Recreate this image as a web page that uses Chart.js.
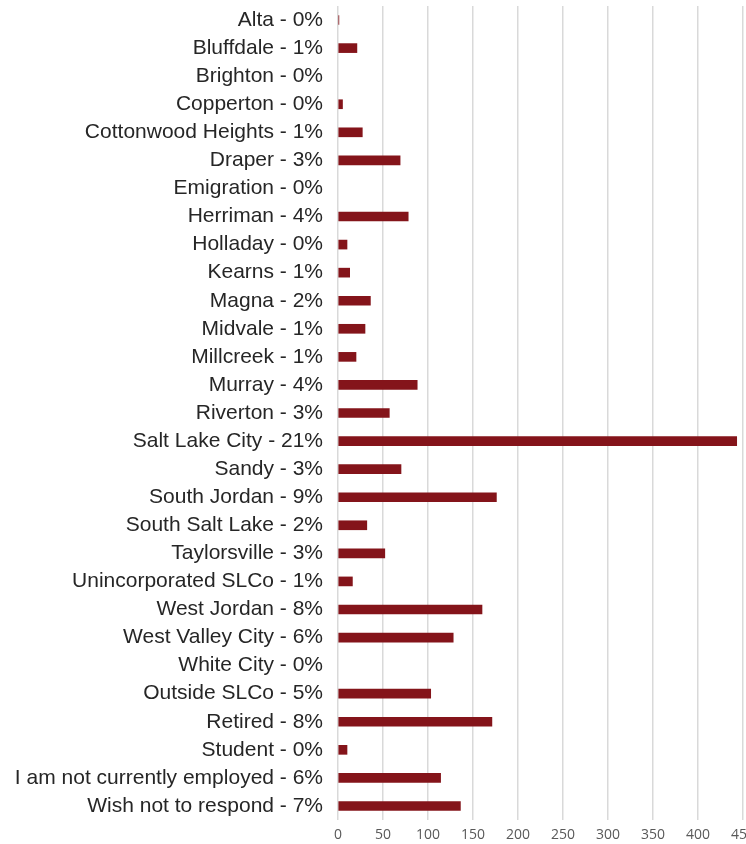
<!DOCTYPE html>
<html>
<head>
<meta charset="utf-8">
<script src="https://cdn.jsdelivr.net/npm/chart.js@4.4.1/dist/chart.umd.min.js"></script>
<style>
html,body{margin:0;padding:0;background:#fff;}
#wrap{width:746px;height:844px;position:relative;}
</style>
</head>
<body>
<div id="wrap"><canvas id="c"></canvas></div>
<script>
const categories = ["Alta","Bluffdale","Brighton","Copperton","Cottonwood Heights","Draper","Emigration","Herriman","Holladay","Kearns","Magna","Midvale","Millcreek","Murray","Riverton","Salt Lake City","Sandy","South Jordan","South Salt Lake","Taylorsville","Unincorporated SLCo","West Jordan","West Valley City","White City","Outside SLCo","Retired","Student","I am not currently employed","Wish not to respond"];
const percents = [0,1,0,0,1,3,0,4,0,1,2,1,1,4,3,21,3,9,2,3,1,8,6,0,5,8,0,6,7];
const counts = [1,21,0,5,27,69,0,78,10,13,36,30,20,88,57,443,70,176,32,52,16,160,128,0,103,171,10,114,136];
const xTicks = [0,50,100,150,200,250,300,350,400,450];

const labels = categories.map((c,i)=>c+" - "+percents[i]+"%");

new Chart(document.getElementById('c'), {
  type: 'bar',
  data: {
    labels: labels,
    datasets: [{
      data: counts.map(v => v === 0 ? null : v),
      backgroundColor: '#84141a',
      borderWidth: 0,
      barThickness: 9
    }]
  },
  options: {
    indexAxis: 'y',
    responsive: true,
    maintainAspectRatio: false,
    animation: false,
    layout: { padding: { top: 6, right: 3, bottom: 2, left: 0 } },
    plugins: { legend: { display: false }, tooltip: { enabled: false } },
    scales: {
      x: {
        min: 0, max: 450,
        afterBuildTicks: (s) => { s.ticks = xTicks.map(v => ({ value: v })); },
        afterFit: (s) => { s.paddingRight = 0; s.paddingLeft = 0; s.height = 22; },
        grid: { color: '#d9d9d9', lineWidth: 1.5, drawTicks: false },
        border: { display: false },
        ticks: { color: '#595959', padding: 7, font: { family: 'Open Sans', size: 14 } }
      },
      y: {
        afterFit: (s) => { s.width = 338; s.paddingTop = 0; s.paddingBottom = 0; },
        grid: { display: false, drawTicks: false },
        border: { display: false },
        ticks: { color: '#262626', padding: 15, autoSkip: false, font: { family: 'Liberation Sans', size: 21 } }
      }
    }
  }
});
</script>
</body>
</html>
